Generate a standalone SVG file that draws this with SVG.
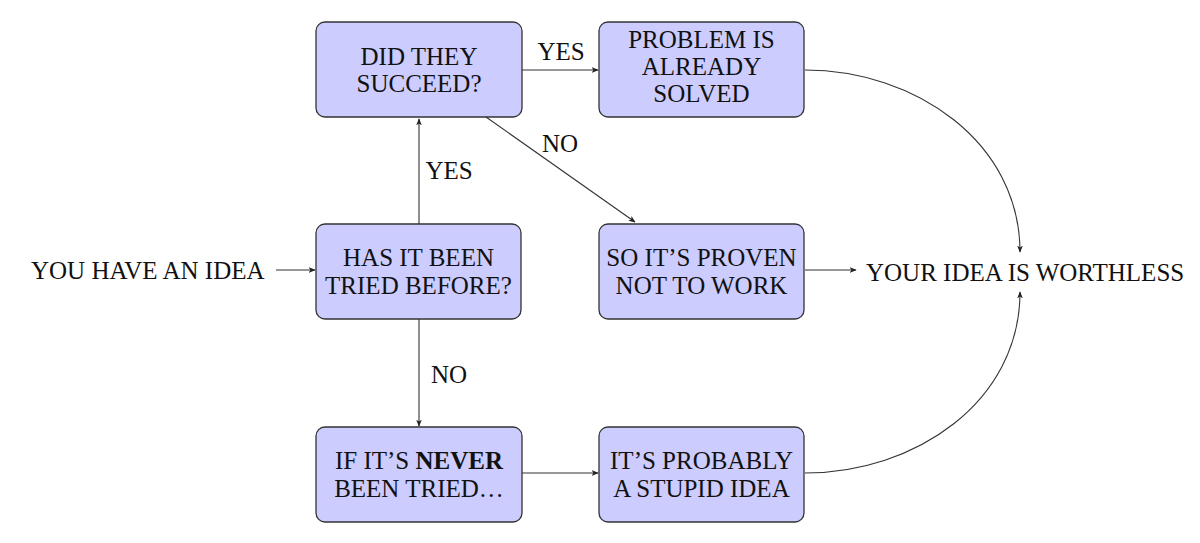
<svg xmlns="http://www.w3.org/2000/svg" width="1200" height="543" viewBox="0 0 1200 543">
<style>
.box{fill:#ccccff;stroke:#333333;stroke-width:1.3}
.t{font-family:"Liberation Serif","Times New Roman",serif;font-size:25px;fill:#111111}
.c{text-anchor:middle}
.e{stroke:#333333;stroke-width:1.1;fill:none;marker-end:url(#ah)}
</style>
<defs>
<marker id="ah" viewBox="0 0 10 8" refX="9" refY="4" markerWidth="7" markerHeight="5.6" orient="auto" markerUnits="userSpaceOnUse">
<path d="M0,0 L10,4 L0,8 L2.5,4 Z" fill="#222222"/>
</marker>
</defs>
<rect width="1200" height="543" fill="#ffffff"/>
<g id="connectors">
<path class="e" d="M276,270 L315,270"/>
<path class="e" d="M419,224 L419,119"/>
<path class="e" d="M419,319 L419,426"/>
<path class="e" d="M522,70 L598,70"/>
<path class="e" d="M486,117 L635,222"/>
<path class="e" d="M805,270 L856,270"/>
<path class="e" d="M522,473 L598,473"/>
<path class="e" d="M805,70 C915,70 1020,142 1020,252"/>
<path class="e" d="M805,473 C915,473 1020,402 1020,292"/>
<text class="t c" x="449" y="179">YES</text>
<text class="t c" x="449" y="383">NO</text>
<text class="t c" x="561" y="60">YES</text>
<text class="t c" x="560" y="152">NO</text>
</g>
<g id="start"><text class="t" x="31" y="279">YOU HAVE AN IDEA</text></g>
<g id="tried">
<rect class="box" x="316" y="224" width="205" height="95" rx="9"/>
<text class="t c" x="418.5" y="266">HAS IT BEEN</text>
<text class="t c" x="418.5" y="294">TRIED BEFORE?</text>
</g>
<g id="succeed">
<rect class="box" x="316" y="22" width="206" height="95" rx="9"/>
<text class="t c" x="419" y="65">DID THEY</text>
<text class="t c" x="419" y="92">SUCCEED?</text>
</g>
<g id="solved">
<rect class="box" x="599" y="22" width="205" height="95" rx="9"/>
<text class="t c" x="701.5" y="48">PROBLEM IS</text>
<text class="t c" x="701.5" y="75">ALREADY</text>
<text class="t c" x="701.5" y="102">SOLVED</text>
</g>
<g id="proven">
<rect class="box" x="599" y="224" width="205" height="95" rx="9"/>
<text class="t c" x="701.5" y="266">SO IT’S PROVEN</text>
<text class="t c" x="701.5" y="294">NOT TO WORK</text>
</g>
<g id="never">
<rect class="box" x="316" y="427" width="206" height="95" rx="9"/>
<text class="t c" x="419" y="469">IF IT’S <tspan font-weight="bold">NEVER</tspan></text>
<text class="t c" x="419" y="497">BEEN TRIED…</text>
</g>
<g id="stupid">
<rect class="box" x="599" y="427" width="205" height="95" rx="9"/>
<text class="t c" x="701.5" y="469">IT’S PROBABLY</text>
<text class="t c" x="701.5" y="497">A STUPID IDEA</text>
</g>
<g id="worthless"><text class="t" x="866" y="281">YOUR IDEA IS WORTHLESS</text></g>
</svg>
